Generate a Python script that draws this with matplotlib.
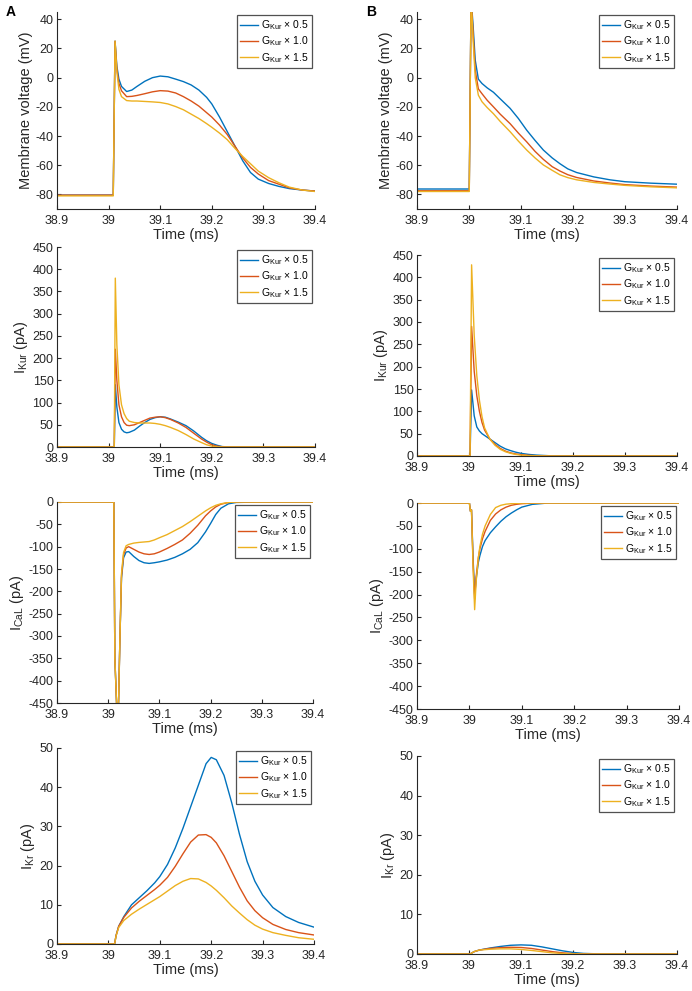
import matplotlib
matplotlib.use("Agg")
import matplotlib.pyplot as plt

plt.rcParams['font.family'] = ['Liberation Sans', 'DejaVu Sans']
plt.rcParams['mathtext.fontset'] = 'custom'
plt.rcParams['mathtext.rm'] = 'Liberation Sans'
plt.rcParams['axes.unicode_minus'] = False

labels = [r'G$_{\mathrm{Kur}}$ $\times$ 0.5', r'G$_{\mathrm{Kur}}$ $\times$ 1.0', r'G$_{\mathrm{Kur}}$ $\times$ 1.5']
colors = ['#0072BD', '#D95319', '#EDB120']
xticks = [38.9, 39.0, 39.1, 39.2, 39.3, 39.4]
xticklabels = ['38.9', '39', '39.1', '39.2', '39.3', '39.4']

# ---- column A ----
a_v_t = [38.9, 39.009, 39.0125, 39.016, 39.02, 39.025, 39.035, 39.045, 39.055, 39.07, 39.085, 39.1,
         39.115, 39.13, 39.145, 39.16, 39.175, 39.19, 39.2, 39.215, 39.23, 39.245, 39.26, 39.275,
         39.29, 39.31, 39.33, 39.35, 39.375, 39.4]
a_v = [
    [-80.5, -80.5, 25, 8, -1, -6, -9.5, -8.5, -6, -2.5, 0, 1.1, 0.6, -1, -2.7, -5, -8.5, -13.5, -18,
     -27, -37, -47, -57, -65, -69.5, -72.5, -74.5, -76, -77, -77.7],
    [-80.5, -80.5, 25, 6, -4, -9, -13, -12.8, -12.2, -11, -9.7, -8.9, -9.2, -10.5, -13, -16, -19.5, -24, -27,
     -32.5, -39, -47, -55, -61.5, -66, -70.5, -73, -75.5, -77, -77.7],
    [-81, -81, 25, 4, -8, -13, -15.7, -16, -16, -16.3, -16.6, -17, -18, -19.8, -22, -25, -28, -31.5, -34,
     -38, -42.5, -48.5, -54, -59, -64, -68.5, -72, -75, -77, -78],
]

a_kur_t = [38.9, 39.011, 39.013, 39.016, 39.02, 39.025, 39.03, 39.035, 39.04, 39.05, 39.06, 39.07, 39.08,
           39.09, 39.1, 39.11, 39.12, 39.135, 39.15, 39.165, 39.18, 39.19, 39.2, 39.21, 39.22, 39.23, 39.4]
a_kur = [
    [0, 0, 140, 90, 55, 40, 34, 32, 33, 38, 47, 55, 62, 66, 68, 67, 63, 56, 48, 36, 22, 14, 8, 4, 1, 0.2, 0],
    [0, 0, 220, 150, 95, 68, 55, 49, 48, 50, 55, 60, 65, 67, 68, 66, 62, 54, 44, 31, 18, 11, 5, 2, 0.5, 0, 0],
    [0, 0, 380, 230, 140, 95, 75, 64, 58, 55, 54, 54, 54, 53, 51, 48, 44, 37, 28, 18, 10, 5, 2, 0.5, 0, 0, 0],
]

a_cal_t = [38.9, 39.011, 39.013, 39.017, 39.02, 39.023, 39.026, 39.03, 39.035, 39.04, 39.05, 39.06, 39.07,
           39.08, 39.09, 39.1, 39.115, 39.13, 39.145, 39.16, 39.175, 39.19, 39.2, 39.21, 39.22, 39.235,
           39.25, 39.3, 39.4]
a_cal = [
    [0, 0, -350, -470, -460, -300, -170, -125, -112, -111, -122, -131, -136, -137.5, -136, -134, -130, -124,
     -116, -106, -91, -67, -48, -28, -14, -4, -1, 0, 0],
    [0, 0, -350, -470, -460, -300, -165, -118, -103, -100, -106, -112, -116, -117.5, -116, -112, -104, -95,
     -85, -70, -52, -31, -20, -11, -5, -1, 0, 0, 0],
    [0, 0, -350, -470, -460, -300, -160, -113, -98, -95, -92, -90.5, -89.5, -88.5, -85, -80, -73, -64,
     -55, -44, -32, -20, -13, -7.5, -4, -1, 0, 0, 0],
]

a_kr_t = [38.9, 39.012, 39.015, 39.02, 39.03, 39.045, 39.06, 39.075, 39.09, 39.1, 39.115, 39.13, 39.145,
          39.16, 39.175, 39.19, 39.2, 39.21, 39.225, 39.24, 39.255, 39.27, 39.285, 39.3, 39.32, 39.345,
          39.37, 39.4]
a_kr = [
    [0, 0, 2.2, 4.5, 7, 10, 11.8, 13.6, 15.6, 17.2, 20.3, 24.5, 29.5, 35, 40.5, 46, 47.6, 47.0, 43, 36,
     28, 21, 16, 12.5, 9.3, 7, 5.5, 4.3],
    [0, 0, 2.2, 4.5, 6.8, 9.2, 10.9, 12.4, 13.9, 15, 17, 19.8, 23, 26, 27.8, 27.9, 27.2, 25.8, 22.5, 18.5,
     14.5, 11, 8.5, 6.7, 5, 3.7, 2.9, 2.3],
    [0, 0, 2.1, 4.2, 6, 7.6, 8.9, 10.1, 11.3, 12.1, 13.5, 14.9, 16, 16.7, 16.6, 15.7, 14.8, 13.7, 11.8, 9.7,
     7.9, 6.2, 4.8, 3.8, 2.9, 2.2, 1.6, 1.2],
]

# ---- column B ----
b_v_t = [38.9, 39.0005, 39.004, 39.008, 39.012, 39.018, 39.025, 39.035, 39.047, 39.06, 39.079, 39.095,
         39.111, 39.127, 39.143, 39.16, 39.175, 39.19, 39.207, 39.24, 39.271, 39.3, 39.35, 39.4]
b_v = [
    [-76.3, -76.3, 55, 35, 12, -1, -4, -7, -10, -14.5, -21, -28, -36, -43, -49.6, -55, -59, -62.5, -65,
     -68, -70, -71.3, -72.3, -73],
    [-77.5, -77.5, 55, 30, 5, -7.7, -11, -15.5, -20, -25, -31.5, -38, -44, -50.5, -56, -61, -64, -66.5,
     -68.4, -70.8, -72.2, -73.3, -74.3, -75],
    [-78, -78, 55, 25, 0, -12, -16.5, -20.5, -24.7, -30, -37, -43.5, -49.6, -55, -59.8, -63.5, -66.6,
     -68.5, -70, -71.8, -72.9, -73.8, -74.8, -75.5],
]

b_kur_t = [38.9, 39.002, 39.005, 39.01, 39.015, 39.02, 39.025, 39.03, 39.04, 39.05, 39.06, 39.07, 39.08,
           39.09, 39.1, 39.115, 39.13, 39.16, 39.4]
b_kur = [
    [0, 0, 148, 90, 65, 56, 50, 46, 38, 30, 22, 16, 12, 8.5, 6, 3.5, 2, 0.3, 0],
    [0, 0, 290, 190, 135, 100, 75, 58, 38, 26, 17, 11, 7, 4.5, 3, 1.5, 0.6, 0, 0],
    [0, 0, 428, 270, 180, 125, 88, 63, 38, 24, 15, 9.5, 6, 3.5, 2, 0.8, 0.3, 0, 0],
]

b_cal_t = [38.9, 39.0, 39.002, 39.004, 39.007, 39.01, 39.013, 39.017, 39.02, 39.025, 39.03, 39.04,
           39.05, 39.06, 39.07, 39.08, 39.09, 39.1, 39.12, 39.15, 39.4]
b_cal = [
    [0, 0, -18, -15, -120, -200, -165, -130, -115, -95, -82, -65, -52, -40, -30, -22, -15, -9, -3, 0, 0],
    [0, 0, -18, -15, -130, -210, -160, -120, -100, -78, -62, -38, -24, -15, -9, -5, -2.8, -1.5, -0.3, 0, 0],
    [0, 0, -18, -15, -140, -233, -170, -120, -95, -68, -50, -25, -10, -5, -2.5, -1.5, -0.7, -0.3, 0, 0, 0],
]

b_kr_t = [38.9, 39.002, 39.01, 39.02, 39.04, 39.06, 39.08, 39.1, 39.12, 39.14, 39.16, 39.18,
          39.2, 39.22, 39.25, 39.4]
b_kr = [
    [0, 0, 0.6, 1.0, 1.5, 1.9, 2.2, 2.3, 2.2, 1.8, 1.3, 0.8, 0.4, 0.15, 0.03, 0],
    [0, 0, 0.6, 1.0, 1.4, 1.6, 1.7, 1.65, 1.4, 1.0, 0.6, 0.3, 0.1, 0.03, 0, 0],
    [0, 0, 0.6, 1.0, 1.2, 1.3, 1.3, 1.15, 0.9, 0.6, 0.3, 0.12, 0.04, 0, 0, 0],
]

W, H = 692, 991
fig = plt.figure(figsize=(W / 100, H / 100), dpi=100)
fig.patch.set_facecolor('white')

def box(l, t, r, b):
    return [l / W, 1 - b / H, (r - l) / W, (b - t) / H]

panels = [
    (box(57, 12, 315, 209), a_v_t, a_v, (-90, 45), range(-80, 41, 20), 'Membrane voltage (mV)'),
    (box(57, 247, 315, 447), a_kur_t, a_kur, (0, 450), range(0, 451, 50), r'I$_{\mathrm{Kur}}$ (pA)'),
    (box(57, 502, 313, 703), a_cal_t, a_cal, (-450, 0), range(-450, 1, 50), r'I$_{\mathrm{CaL}}$ (pA)'),
    (box(57, 748, 314, 944), a_kr_t, a_kr, (0, 50), range(0, 51, 10), r'I$_{\mathrm{Kr}}$ (pA)'),
    (box(417, 12, 677, 209), b_v_t, b_v, (-90, 45), range(-80, 41, 20), 'Membrane voltage (mV)'),
    (box(417, 255, 677, 456), b_kur_t, b_kur, (0, 450), range(0, 451, 50), r'I$_{\mathrm{Kur}}$ (pA)'),
    (box(417, 503, 679, 709), b_cal_t, b_cal, (-450, 0), range(-450, 1, 50), r'I$_{\mathrm{CaL}}$ (pA)'),
    (box(417, 756, 677, 954), b_kr_t, b_kr, (0, 50), range(0, 51, 10), r'I$_{\mathrm{Kr}}$ (pA)'),
]

axc = '#262626'
for rect, t, series, ylim, yt, ylab in panels:
    ax = fig.add_axes(rect)
    for vals, c, lab in zip(series, colors, labels):
        ax.plot(t, vals, color=c, lw=1.0, label=lab)
    ax.set_xlim(38.9, 39.4)
    ax.set_ylim(*ylim)
    ax.set_xticks(xticks)
    ax.set_xticklabels(xticklabels)
    ax.set_yticks(list(yt))
    ax.spines['right'].set_visible(False)
    ax.spines['top'].set_visible(False)
    for s in ('left', 'bottom'):
        ax.spines[s].set_color(axc)
        ax.spines[s].set_linewidth(0.8)
    ax.tick_params(direction='in', length=3, width=0.8, colors=axc, labelsize=9)
    ax.tick_params(axis='x', pad=4)
    ax.tick_params(axis='y', pad=2.5)
    ax.set_xlabel('Time (ms)', fontsize=10.5, color=axc, labelpad=1)
    ax.set_ylabel(ylab, fontsize=10.5, color=axc, labelpad=2)
    leg = ax.legend(loc='upper right', fontsize=7.5, frameon=True, fancybox=False,
                    borderaxespad=0.3, handlelength=1.7, handletextpad=0.3,
                    labelspacing=0.25, borderpad=0.3)
    leg.get_frame().set_edgecolor(axc)
    leg.get_frame().set_linewidth(0.9)

fig.text(6 / W, 1 - 12 / H, 'A', fontsize=10, fontweight='bold', va='center')
fig.text(366 / W, 1 - 12 / H, 'B', fontsize=10, fontweight='bold', va='center')

fig.savefig('out.png', dpi=100)
